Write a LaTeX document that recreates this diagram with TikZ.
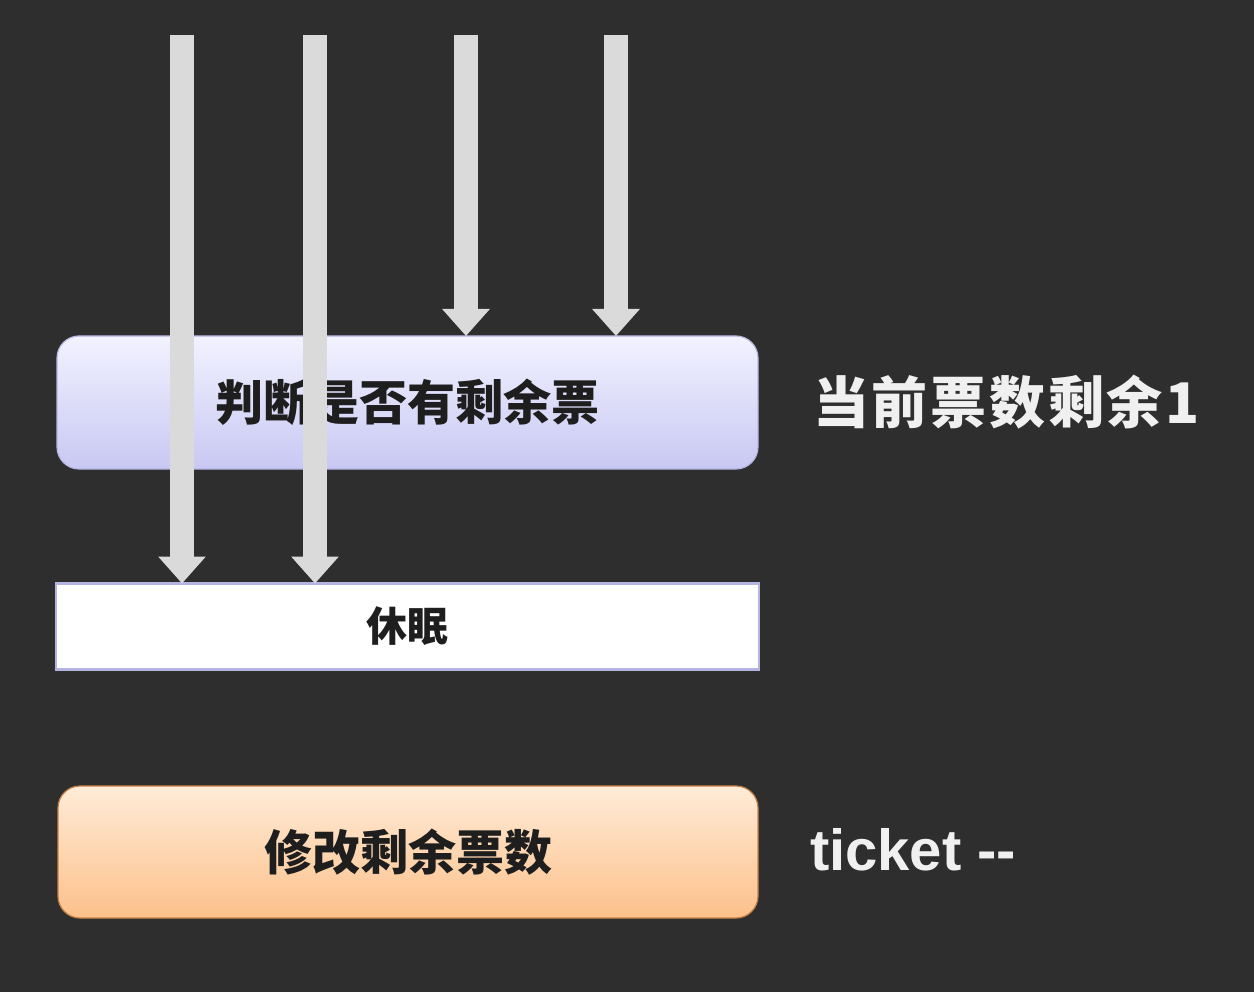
\documentclass[tikz,border=0pt]{standalone}
\usepackage{fontspec}
\newfontfamily\cjk{Noto Sans CJK SC}
\newfontfamily\cjkwide[LetterSpace=5]{Noto Sans CJK SC}
\newfontfamily\latsans{Liberation Sans}
\usetikzlibrary{arrows.meta}
\definecolor{bgdark}{RGB}{46,46,46}
\definecolor{arrowgray}{RGB}{218,218,218}
\definecolor{lavtop}{RGB}{242,242,255}
\definecolor{lavbot}{RGB}{200,200,243}
\definecolor{lavline}{RGB}{180,180,225}
\definecolor{ortop}{RGB}{255,236,216}
\definecolor{orbot}{RGB}{252,192,138}
\definecolor{orline}{RGB}{200,130,70}
\definecolor{boxtext}{RGB}{30,30,30}
\definecolor{labeltext}{RGB}{240,240,240}
\tikzset{
  fatarrow/.style={draw=arrowgray, line width=24pt,
    -{Triangle[width=46pt,length=27pt]}, shorten >=0pt},
  roundbox/.style={rounded corners=22pt, inner sep=0pt, outer sep=0pt,
    line width=1.2pt, font=\cjk\bfseries\fontsize{48}{50}\selectfont, text=boxtext},
  plainbox/.style={inner sep=0pt, outer sep=0pt, draw=lavline, fill=white,
    line width=2.5pt, font=\cjk\bfseries\fontsize{41}{44}\selectfont, text=boxtext},
  sidelabel/.style={inner sep=0pt, outer sep=0pt, anchor=west, text=labeltext}
}
\begin{document}
\begin{tikzpicture}[x=1pt,y=-1pt]
  \fill[bgdark] (0,0) rectangle (1254,992);
  \useasboundingbox (0,0) rectangle (1254,992);

  \node[roundbox, top color=lavtop, bottom color=lavbot, draw=lavline,
        minimum width=701pt, minimum height=133pt] (judge) at (407.5,402.5) {判断是否有剩余票};
  \node[plainbox, minimum width=703pt, minimum height=86pt] (sleep) at (407.5,626.5) {休眠};
  \node[roundbox, top color=ortop, bottom color=orbot, draw=orline,
        minimum width=700pt, minimum height=132pt] (modify) at (408,852) {修改剩余票数};

  \node[sidelabel, font=\cjkwide\bfseries\fontsize{56}{60}\selectfont] (remain) at (813,402) {当前票数剩余1};
  \node[sidelabel, font=\latsans\bfseries\fontsize{58}{60}\selectfont] (tick) at (810,850) {ticket --};

  \coordinate (s1) at (182,35);
  \coordinate (s2) at (315,35);
  \coordinate (s3) at (466,35);
  \coordinate (s4) at (616,35);

  \draw[fatarrow] (s3) -- (s3 |- judge.north);
  \draw[fatarrow] (s4) -- (s4 |- judge.north);
  \draw[fatarrow] (s1) -- (s1 |- sleep.north);
  \draw[fatarrow] (s2) -- (s2 |- sleep.north);
\end{tikzpicture}
\end{document}
